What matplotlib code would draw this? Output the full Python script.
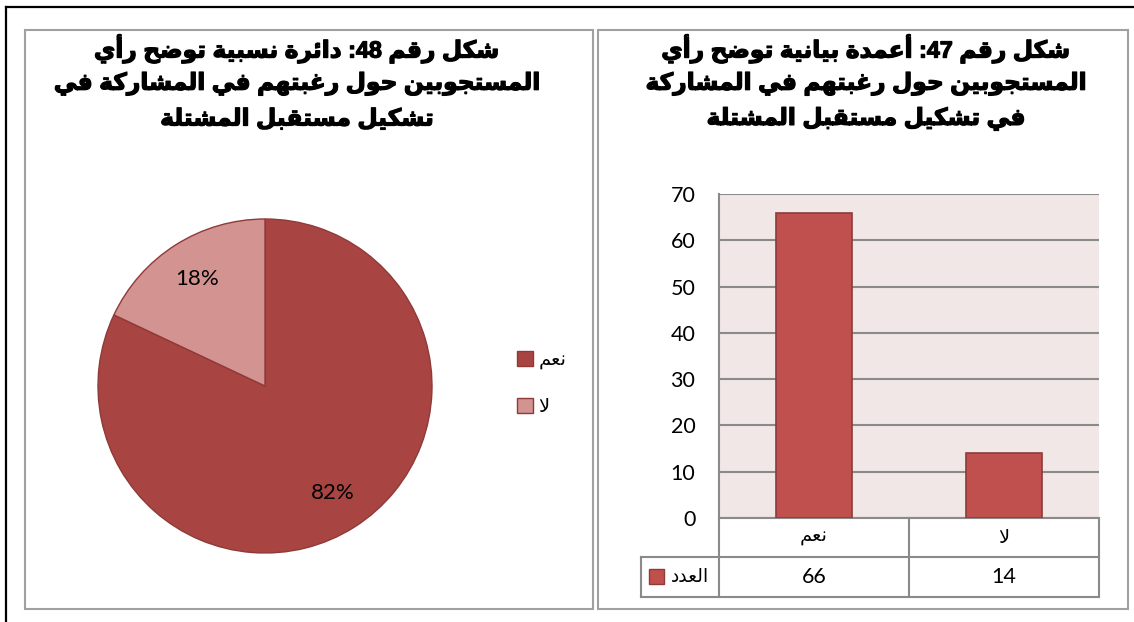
import numpy as np
import matplotlib
matplotlib.use('Agg')
from matplotlib import pyplot as plt
from matplotlib import patheffects
from matplotlib.lines import Line2D
from matplotlib.patches import Rectangle

W, H = 1134, 622

categories = ['نعم', 'لا']
counts = [66, 14]
percents = [82, 18]
series_name = 'العدد'
y_ticks = [0, 10, 20, 30, 40, 50, 60, 70]

pie_title = ['شكل رقم 48: دائرة نسبية توضح رأي',
             'المستجوبين حول رغبتهم في المشاركة في',
             'تشكيل مستقبل المشتلة']
bar_title = ['شكل رقم 47: أعمدة بيانية توضح رأي',
             'المستجوبين حول رغبتهم في المشاركة',
             'في تشكيل مستقبل المشتلة']

pie_colors = ['#A84543', '#D39391']
bar_color = '#C0504D'
bar_edge = '#8E3B39'
line_grey = '#8A8A8A'

plt.rcParams['font.family'] = ['Lato', 'DejaVu Sans']
title_font = ['Liberation Sans', 'DejaVu Sans']

# --- minimal arabic shaping: (letter, first presentation form, number of forms)
letters = [('ء', 0xFE80, 1), ('آ', 0xFE81, 2), ('أ', 0xFE83, 2), ('ؤ', 0xFE85, 2),
           ('إ', 0xFE87, 2), ('ئ', 0xFE89, 4), ('ا', 0xFE8D, 2), ('ب', 0xFE8F, 4),
           ('ة', 0xFE93, 2), ('ت', 0xFE95, 4), ('ث', 0xFE99, 4), ('ج', 0xFE9D, 4),
           ('ح', 0xFEA1, 4), ('خ', 0xFEA5, 4), ('د', 0xFEA9, 2), ('ذ', 0xFEAB, 2),
           ('ر', 0xFEAD, 2), ('ز', 0xFEAF, 2), ('س', 0xFEB1, 4), ('ش', 0xFEB5, 4),
           ('ص', 0xFEB9, 4), ('ض', 0xFEBD, 4), ('ط', 0xFEC1, 4), ('ظ', 0xFEC5, 4),
           ('ع', 0xFEC9, 4), ('غ', 0xFECD, 4), ('ف', 0xFED1, 4), ('ق', 0xFED5, 4),
           ('ك', 0xFED9, 4), ('ل', 0xFEDD, 4), ('م', 0xFEE1, 4), ('ن', 0xFEE5, 4),
           ('ه', 0xFEE9, 4), ('و', 0xFEED, 2), ('ى', 0xFEEF, 2), ('ي', 0xFEF1, 4)]
FORMS = {c: (start, n) for c, start, n in letters}
LAM_ALEF = {'آ': 0xFEF5, 'أ': 0xFEF7, 'إ': 0xFEF9, 'ا': 0xFEFB}


def shape(word):
    units = []
    i = 0
    while i < len(word):
        c = word[i]
        if c == 'ل' and i + 1 < len(word) and word[i + 1] in LAM_ALEF:
            units.append((LAM_ALEF[word[i + 1]], 2))
            i += 2
        elif c in FORMS:
            units.append(FORMS[c])
            i += 1
        else:
            units.append((ord(c), 0))
            i += 1
    out = []
    for k, (start, n) in enumerate(units):
        if n == 0:
            out.append(chr(start))
            continue
        prev_joins = k > 0 and units[k - 1][1] == 4
        next_joins = n == 4 and k + 1 < len(units) and units[k + 1][1] > 0
        if prev_joins and next_joins:
            idx = 3
        elif next_joins:
            idx = 2
        elif prev_joins:
            idx = 1
        else:
            idx = 0
        out.append(chr(start + min(idx, n - 1)))
    return ''.join(out)


def visual(line):
    parts = []
    for word in reversed(line.split(' ')):
        if any(c in FORMS for c in word):
            parts.append(shape(word)[::-1])
        else:
            core = word.rstrip(':')
            parts.append(word[len(core):] + core)
    return ' '.join(parts)


fig = plt.figure(figsize=(W / 100, H / 100), dpi=100)

# page frame and the two panel boxes
fig.add_artist(Line2D([6 / W, 6 / W], [0, 1 - 7 / H], color='black', lw=1.6))
fig.add_artist(Line2D([6 / W, 1], [1 - 7 / H, 1 - 7 / H], color='black', lw=1.6))
for x0, x1 in [(25, 593), (598, 1128)]:
    fig.add_artist(Rectangle((x0 / W, 1 - 609 / H), (x1 - x0) / W, (609 - 30) / H,
                             fill=False, edgecolor='#A0A0A0', lw=1.5,
                             transform=fig.transFigure))

# titles (a thin stroke thickens the arabic glyphs)
heavy = [patheffects.withStroke(linewidth=0.9, foreground='black')]
for lines, cx in [(pie_title, 297), (bar_title, 866)]:
    for i, line in enumerate(lines):
        fig.text(cx / W, 1 - (49 + 35 * i) / H, visual(line), ha='center', va='center',
                 fontsize=16.8, fontweight='bold', family=title_font,
                 path_effects=heavy)

# pie
ax1 = fig.add_axes([98 / W, 1 - 553 / H, 334 / W, 334 / H])
wedges, _, autotexts = ax1.pie(percents, colors=pie_colors, startangle=90,
                               counterclock=False, autopct='%.0f%%', pctdistance=0.76,
                               wedgeprops=dict(edgecolor='#8F3A38', linewidth=1),
                               textprops=dict(fontsize=16, color='black'))
ax1.set_xlim(-1, 1)
ax1.set_ylim(-1, 1)
for w in wedges:
    w.set_clip_on(False)

fig.legend(wedges, [visual(c) for c in categories], loc='upper left',
           bbox_to_anchor=(517 / W, 1 - 351 / H), frameon=False, fontsize=14,
           handlelength=0.8, handleheight=0.8, handletextpad=0.3,
           labelspacing=1.45, borderpad=0, borderaxespad=0)

# bars
ax2 = fig.add_axes([719 / W, 1 - 518 / H, 380 / W, 324 / H])
ax2.set_facecolor('#F2E7E7')
x = np.arange(len(categories))
ax2.bar(x, counts, width=0.405, color=bar_color, edgecolor=bar_edge, linewidth=1.2, zorder=3)
ax2.set_xlim(-0.5, len(categories) - 0.5)
ax2.set_ylim(0, 70)
ax2.set_yticks(y_ticks)
ax2.set_xticks([])
ax2.yaxis.grid(True, color=line_grey, linewidth=1.5)
ax2.set_axisbelow(True)
for s in ['top', 'right', 'bottom']:
    ax2.spines[s].set_visible(False)
ax2.spines['left'].set_color(line_grey)
ax2.spines['left'].set_linewidth(1.5)
ax2.tick_params(axis='y', length=0, pad=17, labelsize=15.5)

# data table under the bars
tr = ax2.get_xaxis_transform()
r1, r2 = -39 / 324, -79 / 324
xl = -0.5 - 78 / 190
edges = np.append(x - 0.5, x[-1] + 0.5)
kw = dict(color=line_grey, lw=1.5, transform=tr, clip_on=False)
ax2.plot([edges[0], edges[-1]], [0, 0], **kw)
ax2.plot([xl, edges[-1]], [r1, r1], **kw)
ax2.plot([xl, edges[-1]], [r2, r2], **kw)
ax2.plot([xl, xl], [r1, r2], **kw)
for e in edges:
    ax2.plot([e, e], [0, r2], **kw)
for xi, cat, n in zip(x, categories, counts):
    ax2.text(xi, (0 + r1) / 2, visual(cat), ha='center', va='center', fontsize=14,
             transform=tr)
    ax2.text(xi, (r1 + r2) / 2, str(n), ha='center', va='center', fontsize=15.5,
             transform=tr)
fig.add_artist(Rectangle((649 / W, 1 - 584 / H), 15 / W, 15 / H, facecolor=bar_color,
                         edgecolor=bar_edge, lw=1, transform=fig.transFigure))
fig.text(709 / W, 1 - 577 / H, visual(series_name), ha='right', va='center', fontsize=13.5)

fig.savefig('out.png', dpi=100)
